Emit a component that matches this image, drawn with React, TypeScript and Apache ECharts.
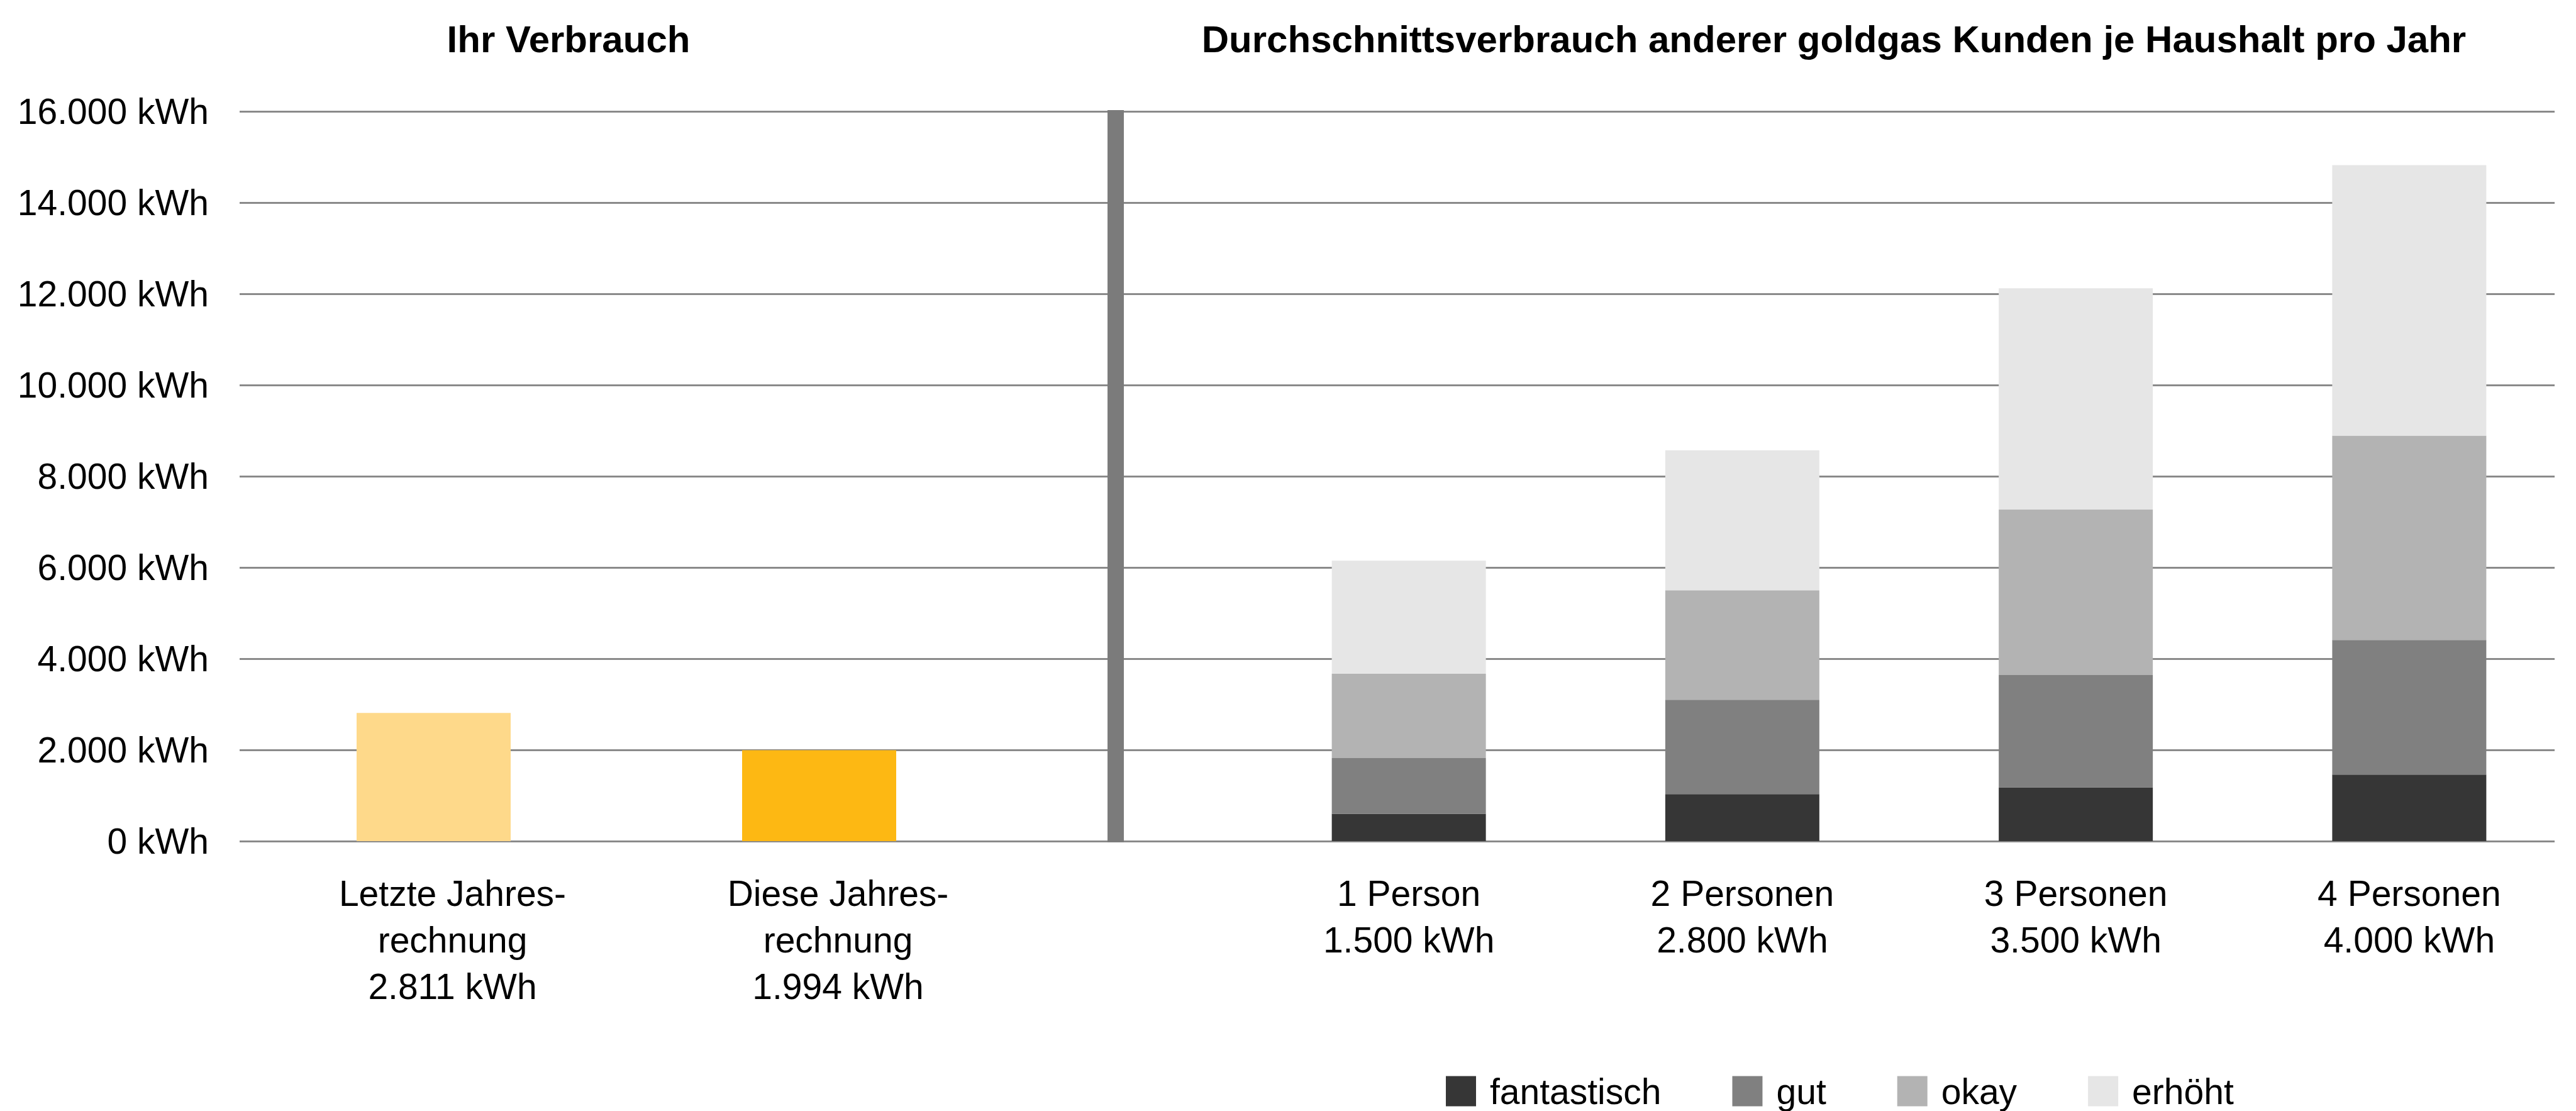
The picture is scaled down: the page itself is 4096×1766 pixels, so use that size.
import React, { useEffect, useRef } from "react";
import * as echarts from "echarts";

// ---- data ----
const leftCategories = ["Letzte Jahres-\nrechnung", "Diese Jahres-\nrechnung"];
const leftValues = [2811, 1994];
const leftColors = ["#FED98A", "#FDB813"];

const rightCategories = ["1 Person", "2 Personen", "3 Personen", "4 Personen"];
const rightAverages = [1500, 2800, 3500, 4000];

const seriesNames = ["fantastisch", "gut", "okay", "erhöht"];
const fantastisch = [600, 1030, 1180, 1460];
const gut = [1220, 2070, 2460, 2950];
const okay = [1850, 2400, 3630, 4480];
const erhoeht = [2480, 3070, 4850, 5930];
const stackColors = ["#363636", "#808080", "#b3b3b3", "#e6e6e6"];

const yMin = 0;
const yMax = 16000;
const yInterval = 2000;

const leftTitle = "Ihr Verbrauch";
const rightTitle = "Durchschnittsverbrauch anderer goldgas Kunden je Haushalt pro Jahr";

const FONT = "Liberation Sans";
const fmt = (v: number) => String(v).replace(/\B(?=(\d{3})+(?!\d))/g, ".");

export default function App() {
  const ref = useRef<HTMLDivElement>(null);

  useEffect(() => {
    if (!ref.current) return;
    const chart = echarts.init(ref.current, undefined, { renderer: "svg" });

    const top = 177;
    const height = 1160;
    const labelStyle = {
      fontSize: 57,
      color: "#000",
      fontFamily: FONT,
      lineHeight: 74,
    };
    const stackData = [fantastisch, gut, okay, erhoeht];

    const option: any = {
      animation: false,
      backgroundColor: "#ffffff",
      textStyle: { fontFamily: FONT },
      legend: {
        data: seriesNames,
        left: 2299,
        top: 1706,
        itemWidth: 48,
        itemHeight: 48,
        itemGap: 113,
        icon: "rect",
        padding: 0,
        textStyle: { fontSize: 57, color: "#000", fontFamily: FONT, padding: [0, 0, 0, 17] },
      },
      grid: [
        { left: 381, width: 3681, top, height },
        { left: 383, width: 1226, top, height },
        { left: 1975, width: 2134, top, height },
      ],
      xAxis: [
        { gridIndex: 0, type: "value", show: false, min: 0, max: 1 },
        {
          gridIndex: 1,
          type: "category",
          data: leftCategories.map((c, i) => c + "\n" + fmt(leftValues[i]) + " kWh"),
          axisLine: { show: false },
          axisTick: { show: false },
          axisLabel: { ...labelStyle, margin: 46, padding: [0, 0, 0, 60] },
        },
        {
          gridIndex: 2,
          type: "category",
          data: rightCategories.map((c, i) => c + "\n" + fmt(rightAverages[i]) + " kWh"),
          axisLine: { show: false },
          axisTick: { show: false },
          axisLabel: { ...labelStyle, margin: 46 },
        },
      ],
      yAxis: [
        {
          gridIndex: 0,
          type: "value",
          min: yMin,
          max: yMax,
          interval: yInterval,
          axisLine: { show: false },
          axisTick: { show: false },
          axisLabel: {
            fontSize: 57,
            color: "#000",
            fontFamily: FONT,
            margin: 49,
            formatter: (v: number) => fmt(v) + " kWh",
          },
          splitLine: { show: true, lineStyle: { color: "#8a8a8a", width: 3 } },
        },
        { gridIndex: 1, type: "value", min: yMin, max: yMax, show: false, splitLine: { show: false } },
        { gridIndex: 2, type: "value", min: yMin, max: yMax, show: false, splitLine: { show: false } },
      ],
      series: [
        {
          type: "bar",
          name: "Verbrauch",
          xAxisIndex: 1,
          yAxisIndex: 1,
          barWidth: 245,
          data: leftValues.map((v, i) => ({ value: v, itemStyle: { color: leftColors[i] } })),
          z: 3,
        },
        ...seriesNames.map((n, k) => ({
          type: "bar",
          name: n,
          stack: "total",
          xAxisIndex: 2,
          yAxisIndex: 2,
          barWidth: 245,
          itemStyle: { color: stackColors[k] },
          data: stackData[k],
          z: 3,
        })),
      ],
      graphic: [
        {
          type: "rect",
          z: 100,
          shape: { x: 1761, y: 175, width: 26, height: 1164 },
          style: { fill: "#7b7b7b" },
        },
        {
          type: "text",
          z: 100,
          x: 904,
          y: 62,
          style: {
            text: leftTitle,
            fill: "#000",
            fontSize: 60,
            fontWeight: "bold",
            fontFamily: FONT,
            align: "center",
            verticalAlign: "middle",
          },
        },
        {
          type: "text",
          z: 100,
          x: 2916,
          y: 62,
          style: {
            text: rightTitle,
            fill: "#000",
            fontSize: 60,
            fontWeight: "bold",
            fontFamily: FONT,
            align: "center",
            verticalAlign: "middle",
          },
        },
      ],
    };

    chart.setOption(option);
    return () => chart.dispose();
  }, []);

  return (
    <div
      ref={ref}
      style={{ position: "fixed", left: 0, top: 0, width: 4096, height: 1766, background: "#fff" }}
    />
  );
}
